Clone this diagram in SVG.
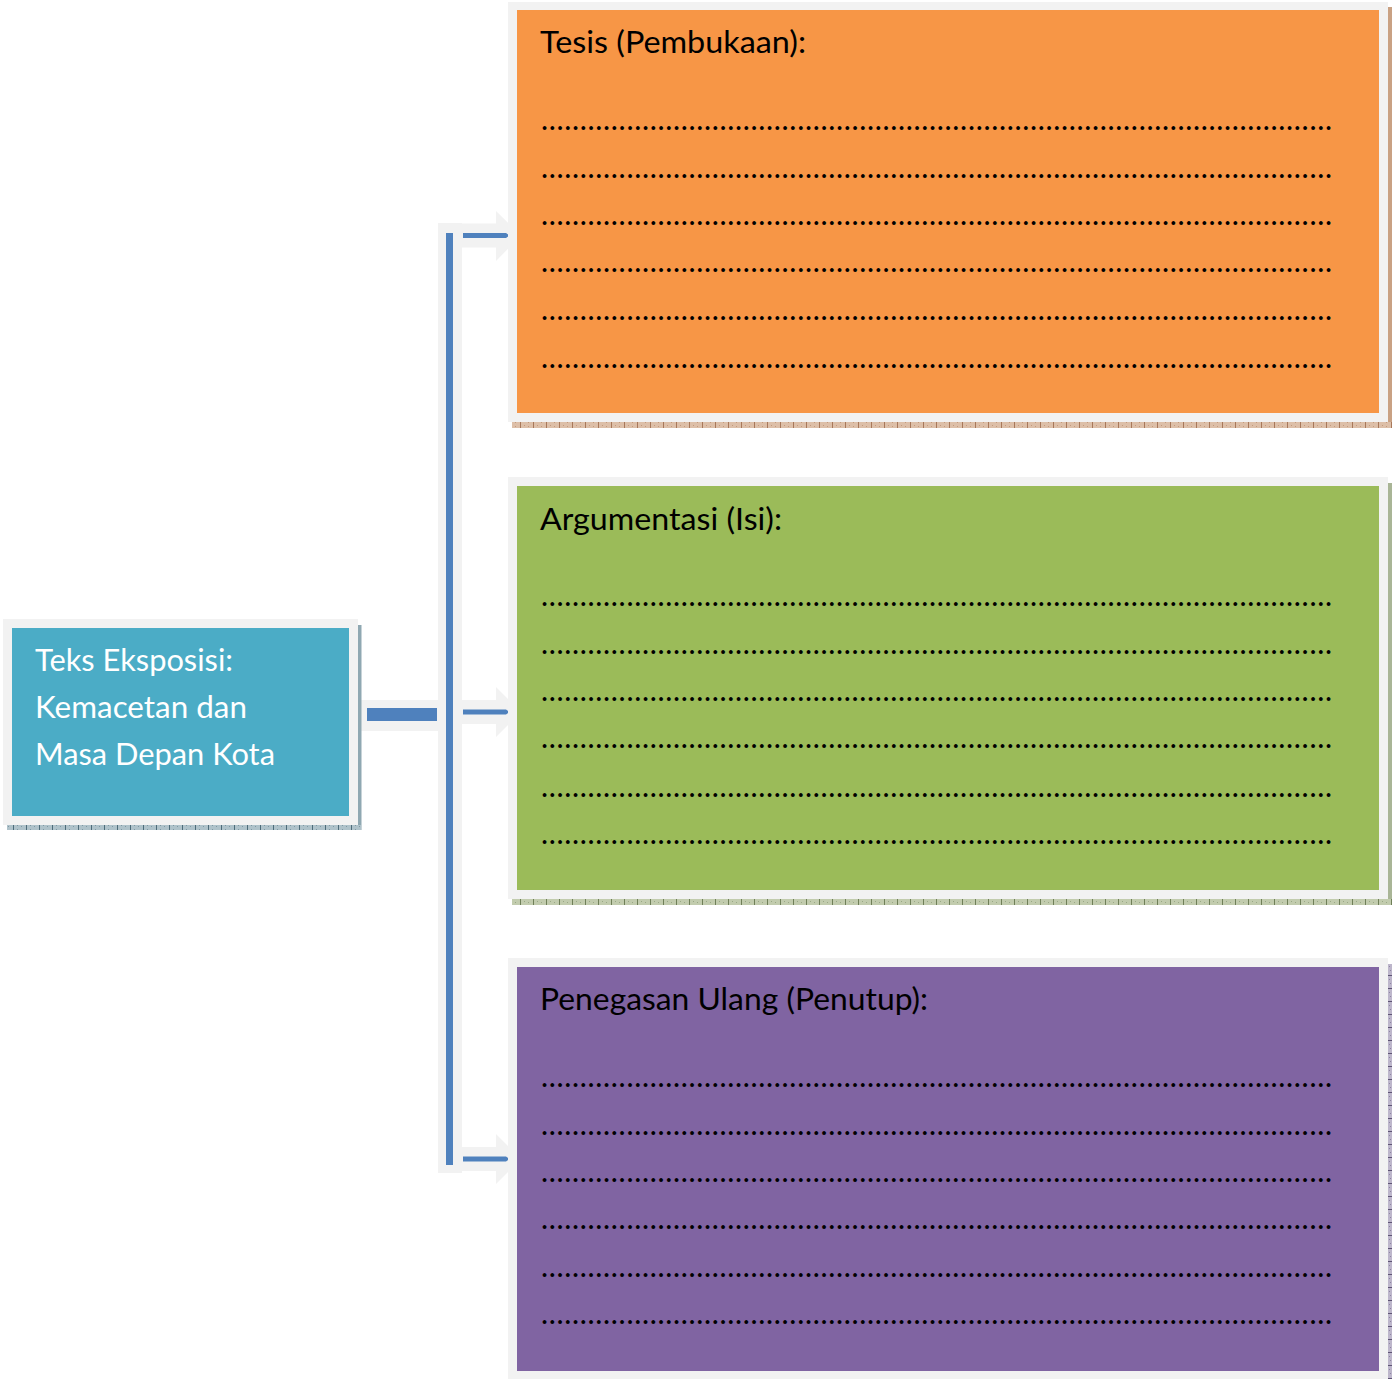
<svg xmlns="http://www.w3.org/2000/svg" width="1396" height="1379" viewBox="0 0 1396 1379">
<defs>
<style>
.frame{fill:#F2F2F2}
.head{font-family:Lato,"Open Sans","Liberation Sans",sans-serif;font-size:30px;fill:#000}
.dots{font-family:Lato,"Open Sans","Liberation Sans",sans-serif;font-size:30px;fill:#000}
.main{font-family:Lato,"Open Sans","Liberation Sans",sans-serif;font-size:30px;fill:#FFFFFF}
.band{fill:#F2F2F2}
.blue{fill:#4F81BD}
</style>
<pattern id="shO" width="13" height="4" patternUnits="userSpaceOnUse">
<rect width="13" height="4" fill="#DDBFA8"/><rect x="0" y="0" width="1" height="4" fill="#A8785A"/><rect x="4" y="1" width="1" height="1" fill="#C49A7C"/><rect x="8" y="2" width="1" height="1" fill="#C49A7C"/>
</pattern>
<pattern id="shG" width="13" height="4" patternUnits="userSpaceOnUse">
<rect width="13" height="4" fill="#C2CCAE"/><rect x="0" y="0" width="1" height="4" fill="#6F7F58"/><rect x="4" y="1" width="1" height="1" fill="#9AA886"/><rect x="8" y="2" width="1" height="1" fill="#9AA886"/>
</pattern>
<pattern id="shP" width="4" height="13" patternUnits="userSpaceOnUse">
<rect width="4" height="13" fill="#BDB6CB"/><rect x="0" y="0" width="4" height="1" fill="#5E5474"/><rect x="1" y="4" width="1" height="1" fill="#8E84A2"/><rect x="2" y="8" width="1" height="1" fill="#8E84A2"/>
</pattern>
<pattern id="shT" width="13" height="4" patternUnits="userSpaceOnUse">
<rect width="13" height="4" fill="#AFC2CA"/><rect x="0" y="0" width="1" height="4" fill="#4E6C7A"/><rect x="4" y="1" width="1" height="1" fill="#7E98A4"/><rect x="8" y="2" width="1" height="1" fill="#7E98A4"/>
</pattern>
</defs>
<rect width="1396" height="1379" fill="#FFFFFF"/>

<g id="connectors">
<rect class="band" x="357" y="700" width="82" height="31"/>
<rect class="band" x="438" y="223" width="24" height="950"/>
<polygon class="band" points="461,223.5 496,223.5 496,211 521,235.5 496,261 496,247.5 461,247.5"/>
<polygon class="band" points="461,700 496,700 496,687 521,712 496,737 496,724 461,724"/>
<polygon class="band" points="461,1147 496,1147 496,1134 521,1159 496,1184 496,1171 461,1171"/>
<rect class="blue" x="367" y="708" width="70" height="13"/>
<rect class="blue" x="446" y="233" width="7" height="932"/>
<path class="blue" d="M463 233 H506 L509.5 235.5 L506 238 H463 Z"/>
<path class="blue" d="M463 709.5 H506 L509.5 712 L506 714.5 H463 Z"/>
<path class="blue" d="M463 1156.5 H506 L509.5 1159 L506 1161.5 H463 Z"/>
</g>

<g id="node-main">
<rect x="358" y="625" width="3.5" height="205" fill="#8FA8B2"/>
<rect x="7" y="825" width="354" height="5" fill="url(#shT)"/>
<rect class="frame" x="3" y="619" width="355" height="206"/>
<rect x="12" y="628" width="337" height="188" fill="#4BACC6"/>
<text class="main" x="35" y="671" textLength="198" lengthAdjust="spacingAndGlyphs">Teks Eksposisi:</text>
<text class="main" x="35" y="718" textLength="212" lengthAdjust="spacingAndGlyphs">Kemacetan dan</text>
<text class="main" x="35" y="765" textLength="240" lengthAdjust="spacingAndGlyphs">Masa Depan Kota</text>
</g>

<g id="node-tesis">
<rect x="1388" y="7" width="4" height="421" fill="#C9A183"/>
<rect x="512" y="422" width="880" height="6" fill="url(#shO)"/>
<rect class="frame" x="508" y="2" width="880" height="420"/>
<rect x="517" y="10" width="862" height="403" fill="#F79646"/>
<text class="head" x="540" y="53" textLength="266" lengthAdjust="spacingAndGlyphs">Tesis (Pembukaan):</text>
<g class="dots">
<text x="541" y="130" textLength="791" lengthAdjust="spacing">......................................................................................................</text>
<text x="541" y="178" textLength="791" lengthAdjust="spacing">......................................................................................................</text>
<text x="541" y="225" textLength="791" lengthAdjust="spacing">......................................................................................................</text>
<text x="541" y="272" textLength="791" lengthAdjust="spacing">......................................................................................................</text>
<text x="541" y="320" textLength="791" lengthAdjust="spacing">......................................................................................................</text>
<text x="541" y="368" textLength="791" lengthAdjust="spacing">......................................................................................................</text>
</g>
</g>

<g id="node-argumentasi">
<rect x="1388" y="483" width="4" height="422" fill="#A9B596"/>
<rect x="512" y="899" width="880" height="6" fill="url(#shG)"/>
<rect class="frame" x="508" y="477" width="880" height="422"/>
<rect x="517" y="486" width="862" height="404" fill="#9BBB59"/>
<text class="head" x="540" y="530" textLength="242" lengthAdjust="spacingAndGlyphs">Argumentasi (Isi):</text>
<g class="dots">
<text x="541" y="606" textLength="791" lengthAdjust="spacing">......................................................................................................</text>
<text x="541" y="654" textLength="791" lengthAdjust="spacing">......................................................................................................</text>
<text x="541" y="701" textLength="791" lengthAdjust="spacing">......................................................................................................</text>
<text x="541" y="748" textLength="791" lengthAdjust="spacing">......................................................................................................</text>
<text x="541" y="797" textLength="791" lengthAdjust="spacing">......................................................................................................</text>
<text x="541" y="844" textLength="791" lengthAdjust="spacing">......................................................................................................</text>
</g>
</g>

<g id="node-penegasan">
<rect x="1388" y="964" width="4" height="415" fill="url(#shP)"/>
<rect class="frame" x="508" y="958" width="880" height="421"/>
<rect x="517" y="967" width="862" height="404" fill="#8064A2"/>
<text class="head" x="540" y="1010" textLength="388" lengthAdjust="spacingAndGlyphs">Penegasan Ulang (Penutup):</text>
<g class="dots">
<text x="541" y="1087" textLength="791" lengthAdjust="spacing">......................................................................................................</text>
<text x="541" y="1135" textLength="791" lengthAdjust="spacing">......................................................................................................</text>
<text x="541" y="1182" textLength="791" lengthAdjust="spacing">......................................................................................................</text>
<text x="541" y="1229" textLength="791" lengthAdjust="spacing">......................................................................................................</text>
<text x="541" y="1277" textLength="791" lengthAdjust="spacing">......................................................................................................</text>
<text x="541" y="1324" textLength="791" lengthAdjust="spacing">......................................................................................................</text>
</g>
</g>
</svg>
